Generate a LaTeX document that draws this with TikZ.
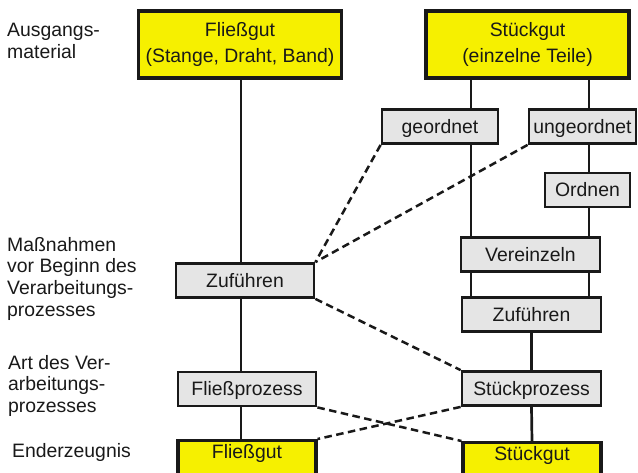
\documentclass[tikz,border=0pt]{standalone}
\usepackage{fontspec}
\setmainfont{Liberation Sans}
\usetikzlibrary{positioning}
\definecolor{gutyellow}{RGB}{246,240,0}
\definecolor{stepgray}{RGB}{229,229,229}
\definecolor{inkgray}{RGB}{25,25,25}

\begin{document}
\begin{tikzpicture}[x=1pt,y=-1pt,
gutbox/.style={draw=inkgray,line width=3.2pt,fill=gutyellow,align=center,inner sep=0pt,text=inkgray,font=\fontsize{19.4}{26}\selectfont},
gutlow/.style={gutbox,anchor=north,inner ysep=4pt,text height=14pt,text depth=30pt,minimum width=138pt},
stepbox/.style={draw=inkgray,line width=2.8pt,fill=stepgray,align=center,inner sep=0pt,minimum height=34pt,text height=13.9pt,text depth=0pt,text=inkgray,font=\fontsize{19.4}{22}\selectfont},
sidelabel/.style={anchor=north west,align=left,inner sep=0pt,text=inkgray,font=\fontsize{19.4}{21.7}\selectfont},
conn/.style={draw=inkgray,line width=2.7pt},
dashconn/.style={conn,line width=2.5pt,dash pattern=on 7.5pt off 4.5pt}]
\useasboundingbox (0,0) rectangle (638,473);
\clip (0,0) rectangle (638,473);
% row labels
\node[sidelabel] (lblAusgang) at (7,23) {Ausgangs-\\material};
\node[sidelabel] (lblMassnahmen) at (7,237) {Maßnahmen\\vor Beginn des\\Verarbeitungs-\\prozesses};
\node[sidelabel] (lblArt) at (8,355) {Art des Ver-\\arbeitungs-\\prozesses};
\node[sidelabel] (lblEnd) at (12,443) {Enderzeugnis};
% Fliessgut column
\node[gutbox,minimum width=203pt,minimum height=67pt] (fgTop) at (240,44.5) {Fließgut\\(Stange, Draht, Band)};
\node[stepbox,minimum width=138pt] (zufL) at (245,280.5) {Zuführen};
\node[stepbox,minimum width=138pt] (fliessproz) at (247,389) {Fließprozess};
\node[gutlow] (fgBot) at (247,439) {Fließgut};
% Stueckgut column
\node[gutbox,minimum width=203pt,minimum height=67pt] (sgTop) at (527.5,44.5) {Stückgut\\(einzelne Teile)};
\node[stepbox,minimum width=116pt] (geordnet) at (440,126.5) {geordnet};
\node[stepbox,minimum width=107pt] (ungeordnet) at (582.5,126.5) {ungeordnet};
\node[stepbox,minimum width=85pt] (ordnen) at (587.5,190) {Ordnen};
\node[stepbox,minimum width=139pt] (vereinzeln) at (530.5,254.5) {Vereinzeln};
\node[stepbox,minimum width=139pt] (zufR) at (531.5,314.5) {Zuführen};
\node[stepbox,minimum width=139pt] (stueckproz) at (531.5,388.5) {Stückprozess};
\node[gutlow] (sgBot) at (532,441) {Stückgut};
% line positions
\coordinate (colL) at (241,0);
\coordinate (colA) at (471,0);
\coordinate (colB) at (589,0);
\foreach \a/\b in {fgTop/zufL,zufL/fliessproz,fliessproz/fgBot} \draw[conn] (\a.south -| colL)--(\b.north -| colL);
\foreach \a/\b in {sgTop/geordnet,geordnet/vereinzeln,vereinzeln/zufR} \draw[conn] (\a.south -| colA)--(\b.north -| colA);
\foreach \a/\b in {sgTop/ungeordnet,ungeordnet/ordnen,ordnen/vereinzeln,vereinzeln/zufR} \draw[conn] (\a.south -| colB)--(\b.north -| colB);
\foreach \a/\b in {zufR/stueckproz,stueckproz/sgBot} \draw[conn] (\a.south)--(\b.north);
% cross links
\foreach \a/\b in {geordnet.south west/zufL.north east,ungeordnet.south west/zufL.north east,zufL.south east/stueckproz.north west,fliessproz.south east/sgBot.north west,stueckproz.south west/fgBot.north east} \draw[dashconn] (\a)--(\b);
\end{tikzpicture}
\end{document}
